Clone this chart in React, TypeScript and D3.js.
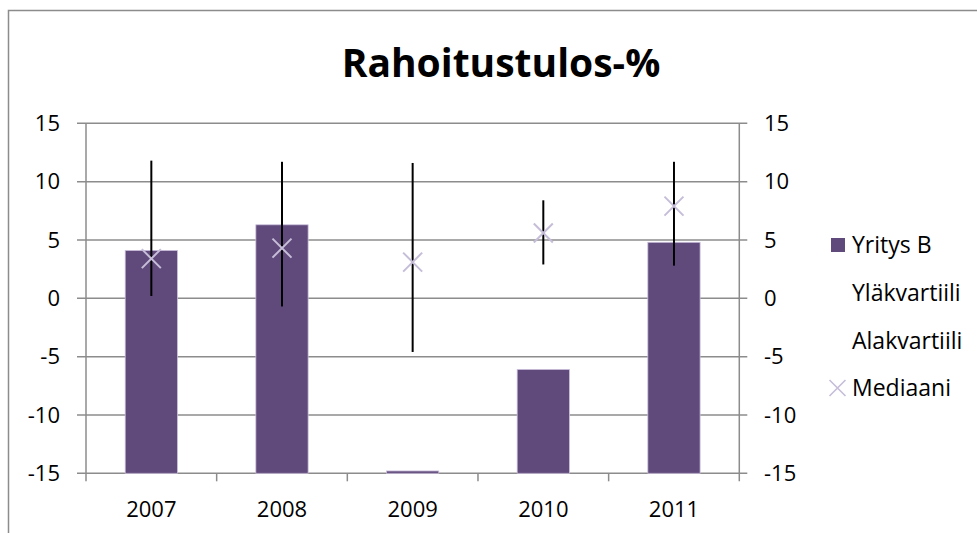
import React from "react";
import * as d3 from "d3";

// Chart data
const categories = ["2007", "2008", "2009", "2010", "2011"];
const yritysB = [4.1, 6.3, -14.8, -6.1, 4.8];
const ylakvartiili = [11.8, 11.7, 11.6, 8.4, 11.7];
const alakvartiili = [0.2, -0.7, -4.6, 2.9, 2.8];
const mediaani = [3.4, 4.3, 3.1, 5.6, 7.9];
const yTicks = [15, 10, 5, 0, -5, -10, -15];
const legendLabels = ["Yritys B", "Yläkvartiili", "Alakvartiili", "Mediaani"];
const title = "Rahoitustulos-%";

const W = 977;
const H = 533;
const FONT = "'Open Sans', 'Liberation Sans', sans-serif";
const BAR = "#604a7b";
const MEDIAN = "#c6bdd9";
const GRID = "#8c8c8c";

export default function App() {
  const plotLeft = 86;
  const plotRight = 739.3;
  const plotTop = 123.3;
  const plotBottom = 473.3;

  const x = d3
    .scaleBand<string>()
    .domain(categories)
    .range([plotLeft, plotRight])
    .paddingInner(0.6)
    .paddingOuter(0.3);
  const step = x.step();
  const y = d3.scaleLinear().domain([-15, 15]).range([plotBottom, plotTop]);
  const cx = (c: string) => (x(c) ?? 0) + x.bandwidth() / 2;

  const xMark = (px: number, py: number, r: number) =>
    `M${px - r},${py - r}L${px + r},${py + r}M${px - r},${py + r}L${px + r},${py - r}`;

  const legendX = 852;
  const legendY = [245, 293, 340.5, 388];

  return (
    <svg
      width={W}
      height={H}
      viewBox={`0 0 ${W} ${H}`}
      style={{ position: "absolute", left: 0, top: 0, background: "#fff" }}
    >
      <rect x={8.5} y={10.5} width={1100} height={700} fill="#fff" stroke={GRID} strokeWidth={1.5} />

      <text
        x={501}
        y={76.5}
        textAnchor="middle"
        fontFamily={FONT}
        fontWeight="bold"
        fontSize={39}
        fill="#000"
      >
        {title}
      </text>

      {/* horizontal gridlines */}
      {yTicks.map((t) => (
        <line key={`g${t}`} x1={plotLeft - 9} x2={plotRight + 8} y1={y(t)} y2={y(t)} stroke={GRID} strokeWidth={1.5} />
      ))}
      {/* vertical axes */}
      <line x1={plotLeft} x2={plotLeft} y1={plotTop} y2={plotBottom + 8} stroke={GRID} strokeWidth={1.5} />
      <line x1={plotRight} x2={plotRight} y1={plotTop} y2={plotBottom + 8} stroke={GRID} strokeWidth={1.5} />
      {/* category tick marks */}
      {d3.range(1, categories.length).map((i) => (
        <line
          key={`t${i}`}
          x1={plotLeft + i * step}
          x2={plotLeft + i * step}
          y1={plotBottom}
          y2={plotBottom + 8}
          stroke={GRID}
          strokeWidth={1.5}
        />
      ))}

      {/* y tick labels, both sides */}
      {yTicks.map((t) => (
        <g key={`l${t}`} fontFamily={FONT} fontSize={22} fill="#000">
          <text x={60} y={y(t)} dy="0.35em" textAnchor="end">
            {t}
          </text>
          <text x={764} y={y(t)} dy="0.35em" textAnchor="start">
            {t}
          </text>
        </g>
      ))}

      {/* category labels */}
      {categories.map((c) => (
        <text key={`c${c}`} x={cx(c)} y={516.5} textAnchor="middle" fontFamily={FONT} fontSize={22} fill="#000">
          {c}
        </text>
      ))}

      {/* bars rise from the axis floor */}
      {categories.map((c, i) => (
        <rect
          key={`b${c}`}
          x={x(c)}
          y={y(yritysB[i])}
          width={x.bandwidth()}
          height={y(-15) - y(yritysB[i])}
          fill={BAR}
          stroke="#cbbfdc"
          strokeWidth={0.8}
        />
      ))}

      {/* quartile range lines */}
      {categories.map((c, i) => (
        <line
          key={`q${c}`}
          x1={cx(c)}
          x2={cx(c)}
          y1={y(ylakvartiili[i])}
          y2={y(alakvartiili[i])}
          stroke="#000"
          strokeWidth={2}
        />
      ))}

      {/* median markers */}
      {categories.map((c, i) => (
        <path key={`m${c}`} d={xMark(cx(c), y(mediaani[i]), 9.5)} stroke={MEDIAN} strokeWidth={2} fill="none" />
      ))}

      {/* legend */}
      <rect x={831} y={legendY[0] - 7} width={14} height={14} fill={BAR} />
      <path d={xMark(837.5, legendY[3], 8)} stroke={MEDIAN} strokeWidth={1.6} fill="none" />
      {legendLabels.map((l, i) => (
        <text key={l} x={legendX} y={legendY[i]} dy="0.35em" fontFamily={FONT} fontSize={23} fill="#000">
          {l}
        </text>
      ))}
    </svg>
  );
}
